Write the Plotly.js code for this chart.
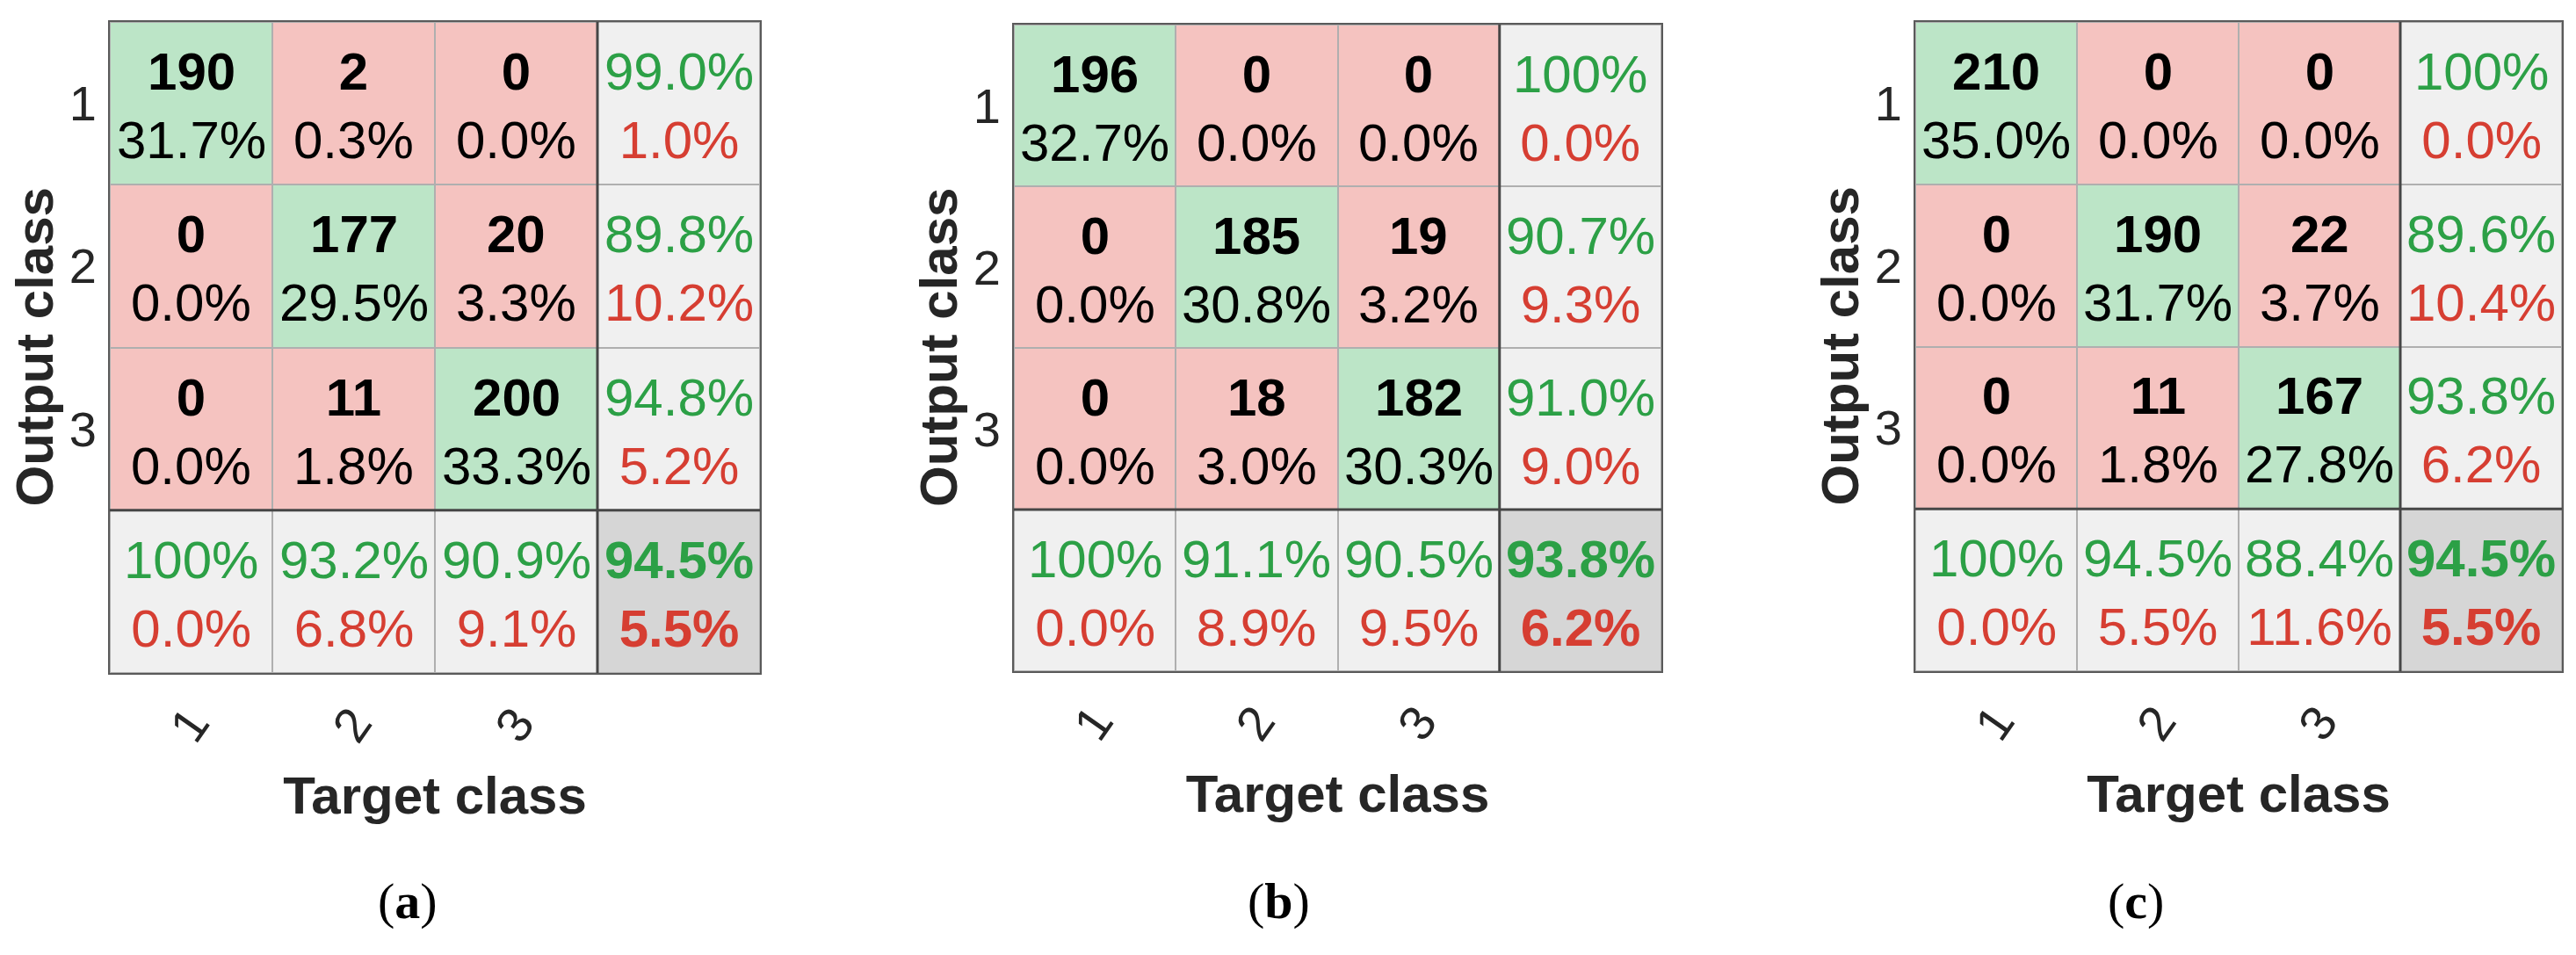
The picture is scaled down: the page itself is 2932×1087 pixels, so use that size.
<!DOCTYPE html>
<html>
<head>
<meta charset="utf-8">
<script src="https://cdn.plot.ly/plotly-3.0.1.min.js"></script>
<style>
  html, body { margin: 0; padding: 0; background: #ffffff; }
  #chart { width: 2932px; height: 1087px; }
</style>
</head>
<body>
<div id="chart"></div>
<script>
// Confusion matrices (a), (b), (c)

const classLabels = ['1', '2', '3'];
const panelLetters = ['a', 'b', 'c'];

// counts per cell, rows = output class, cols = target class
const countsA = [[190, 2, 0], [0, 177, 20], [0, 11, 200]];
const countsB = [[196, 0, 0], [0, 185, 19], [0, 18, 182]];
const countsC = [[210, 0, 0], [0, 190, 22], [0, 11, 167]];

// percent of all samples per cell
const pctA = [[31.7, 0.3, 0.0], [0.0, 29.5, 3.3], [0.0, 1.8, 33.3]];
const pctB = [[32.7, 0.0, 0.0], [0.0, 30.8, 3.2], [0.0, 3.0, 30.3]];
const pctC = [[35.0, 0.0, 0.0], [0.0, 31.7, 3.7], [0.0, 1.8, 27.8]];

// right column (per output class): correct / wrong
const rowOkA = [99.0, 89.8, 94.8], rowErrA = [1.0, 10.2, 5.2];
const rowOkB = [100, 90.7, 91.0], rowErrB = [0.0, 9.3, 9.0];
const rowOkC = [100, 89.6, 93.8], rowErrC = [0.0, 10.4, 6.2];

// bottom row (per target class): correct / wrong
const colOkA = [100, 93.2, 90.9], colErrA = [0.0, 6.8, 9.1];
const colOkB = [100, 91.1, 90.5], colErrB = [0.0, 8.9, 9.5];
const colOkC = [100, 94.5, 88.4], colErrC = [0.0, 5.5, 11.6];

// overall accuracy / error
const totalOk = [94.5, 93.8, 94.5];
const totalErr = [5.5, 6.2, 5.5];

const W = 2932, H = 1087;

// pixel boxes of the three grids
const boxes = [
    { x0: 125, x1: 865, y0: 25, y1: 766 },
    { x0: 1154, x1: 1891, y0: 28, y1: 764 },
    { x0: 2180, x1: 2916, y0: 25, y1: 764 }
];
// centre of each "(a)" / "(b)" / "(c)" label, px
const letterX = [464, 1455, 2431];
const letterY = 1025;

const GREEN_BG = 'rgb(188,229,199)';
const RED_BG = 'rgb(245,195,192)';
const GRAY_BG = 'rgb(240,240,240)';
const DARK_BG = 'rgb(214,214,214)';
const GREEN_TX = 'rgb(44,160,70)';
const RED_TX = 'rgb(214,62,50)';
const AXIS_TX = 'rgb(38,38,38)';
const FONT = '"Liberation Sans", Arial, Helvetica, sans-serif';
const CELL_SIZE = 60;
const TICK_SIZE = 56;

function fmtPct(v) {
    return v === 100 ? '100%' : v.toFixed(1) + '%';
}

const panels = [
    { counts: countsA, pct: pctA, rowOk: rowOkA, rowErr: rowErrA, colOk: colOkA, colErr: colErrA },
    { counts: countsB, pct: pctB, rowOk: rowOkB, rowErr: rowErrB, colOk: colOkB, colErr: colErrB },
    { counts: countsC, pct: pctC, rowOk: rowOkC, rowErr: rowErrC, colOk: colOkC, colErr: colErrC }
];

const n = classLabels.length;
const traces = [];
const annotations = [];
const shapes = [];
const layout = {
    width: W,
    height: H,
    margin: { l: 0, r: 0, t: 0, b: 0 },
    paper_bgcolor: '#ffffff',
    plot_bgcolor: 'rgb(175,175,175)',
    showlegend: false,
    font: { family: FONT, color: AXIS_TX }
};

function cellNote(xa, ya, x, y, text, color) {
    const note = {
        xref: xa, yref: ya, x: x, y: y,
        xanchor: 'center', yanchor: 'middle',
        text: text,
        showarrow: false,
        yshift: -3,
        font: { size: CELL_SIZE, family: FONT }
    };
    if (color) note.font.color = color;
    return note;
}

panels.forEach((p, k) => {
    const suf = k === 0 ? '' : String(k + 1);
    const xa = 'x' + suf, ya = 'y' + suf;
    const box = boxes[k];

    // cell kind: 0 correct, 1 wrong, 2 summary, 3 total
    const z = [];
    for (let i = 0; i <= n; i++) {
        const row = [];
        for (let j = 0; j <= n; j++) {
            if (i < n && j < n) row.push(i === j ? 0 : 1);
            else if (i === n && j === n) row.push(3);
            else row.push(2);
        }
        z.push(row);
    }
    const idx = [...Array(n + 1).keys()];

    traces.push({
        type: 'heatmap',
        x: idx, y: idx, z: z,
        xaxis: xa, yaxis: ya,
        zmin: 0, zmax: 3,
        colorscale: [
            [0, GREEN_BG], [1 / 6, GREEN_BG], [1 / 6, RED_BG], [0.5, RED_BG],
            [0.5, GRAY_BG], [5 / 6, GRAY_BG], [5 / 6, DARK_BG], [1, DARK_BG]
        ],
        showscale: false,
        xgap: 2, ygap: 2,
        hoverinfo: 'skip'
    });

    // cell texts
    for (let i = 0; i < n; i++) {
        for (let j = 0; j < n; j++) {
            annotations.push(cellNote(xa, ya, j, i,
                '<b>' + p.counts[i][j] + '</b><br>' + p.pct[i][j].toFixed(1) + '%', '#000000'));
        }
        annotations.push(cellNote(xa, ya, n, i,
            '<span style="color:' + GREEN_TX + '">' + fmtPct(p.rowOk[i]) + '</span><br>' +
            '<span style="color:' + RED_TX + '">' + fmtPct(p.rowErr[i]) + '</span>'));
        annotations.push(cellNote(xa, ya, i, n,
            '<span style="color:' + GREEN_TX + '">' + fmtPct(p.colOk[i]) + '</span><br>' +
            '<span style="color:' + RED_TX + '">' + fmtPct(p.colErr[i]) + '</span>'));
    }
    annotations.push(cellNote(xa, ya, n, n,
        '<b><span style="color:' + GREEN_TX + '">' + fmtPct(totalOk[k]) + '</span><br>' +
        '<span style="color:' + RED_TX + '">' + fmtPct(totalErr[k]) + '</span></b>'));

    // thick separators before the summary row / column
    shapes.push({
        type: 'line', xref: xa, yref: ya + ' domain',
        x0: n - 0.5, x1: n - 0.5, y0: 0, y1: 1,
        line: { color: 'rgb(70,70,70)', width: 3 }
    });
    shapes.push({
        type: 'line', xref: xa + ' domain', yref: ya,
        x0: 0, x1: 1, y0: n - 0.5, y1: n - 0.5,
        line: { color: 'rgb(70,70,70)', width: 3 }
    });

    // y title, same distance from the grid in every panel
    annotations.push({
        xref: 'paper', yref: ya + ' domain', x: (box.x0 - 86) / W, y: 0.5,
        xanchor: 'center', yanchor: 'middle',
        text: '<b>Output class</b>',
        textangle: -90,
        showarrow: false,
        font: { size: 60, color: AXIS_TX, family: FONT }
    });

    // panel letter
    annotations.push({
        xref: 'paper', yref: 'paper', x: letterX[k] / W, y: 1 - letterY / H,
        xanchor: 'center', yanchor: 'middle',
        text: '(<b>' + panelLetters[k] + '</b>)',
        showarrow: false,
        font: { size: 58, color: '#000000', family: '"Liberation Serif", "Times New Roman", serif' }
    });

    layout['xaxis' + suf] = {
        domain: [box.x0 / W, box.x1 / W],
        anchor: ya,
        range: [-0.5, n + 0.5],
        tickvals: idx.slice(0, n),
        ticktext: classLabels,
        tickangle: -55,
        ticks: '',
        ticklabelstandoff: 0,
        tickfont: { size: TICK_SIZE, color: AXIS_TX },
        showgrid: false, zeroline: false,
        showline: true, mirror: true, linecolor: 'rgb(90,90,90)', linewidth: 2,
        fixedrange: true,
        title: { text: '<b>Target class</b>', font: { size: 60, color: AXIS_TX }, standoff: 29 }
    };
    layout['yaxis' + suf] = {
        domain: [1 - box.y1 / H, 1 - box.y0 / H],
        anchor: xa,
        range: [n + 0.5, -0.5],
        tickvals: idx.slice(0, n),
        ticktext: classLabels,
        ticks: '',
        ticklabelstandoff: 2,
        tickfont: { size: TICK_SIZE, color: AXIS_TX },
        showgrid: false, zeroline: false,
        showline: true, mirror: true, linecolor: 'rgb(90,90,90)', linewidth: 2,
        fixedrange: true
    };
});

layout.annotations = annotations;
layout.shapes = shapes;

Plotly.newPlot('chart', traces, layout, { staticPlot: true, displayModeBar: false });
</script>
</body>
</html>
